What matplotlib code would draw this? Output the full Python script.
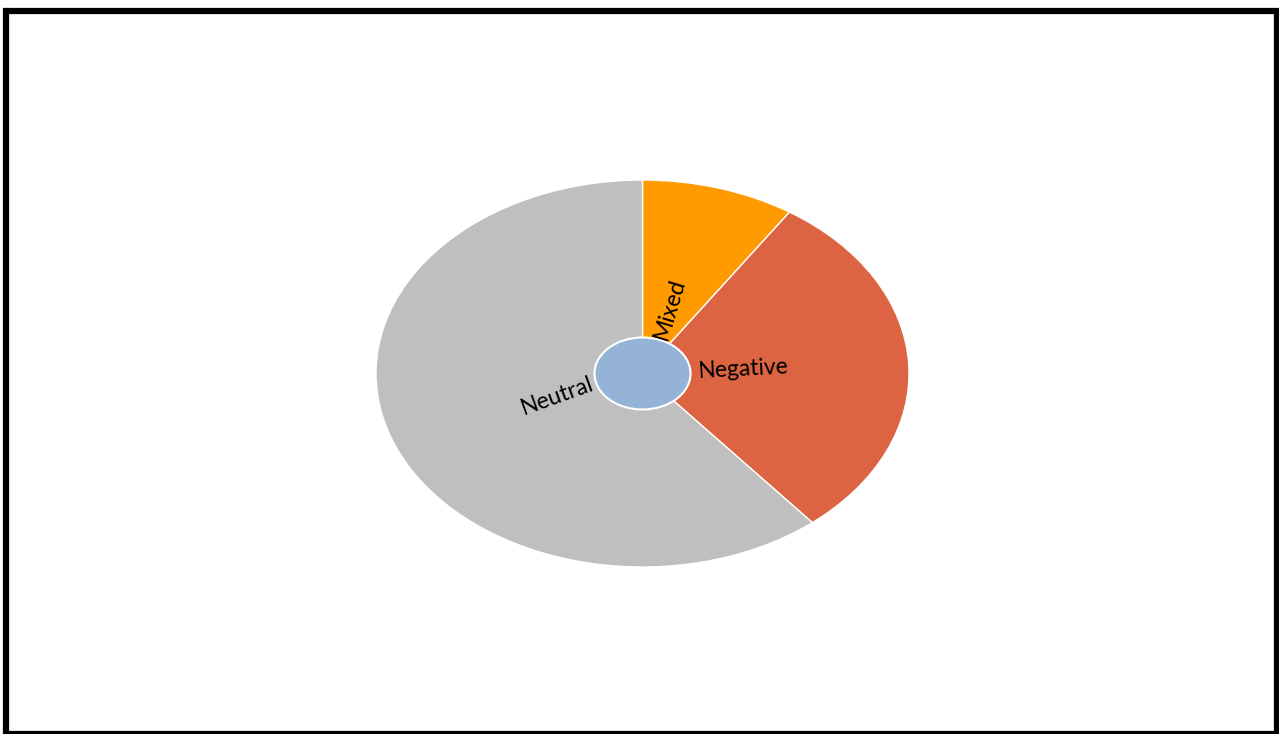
import numpy as np
import matplotlib
matplotlib.use("Agg")
import matplotlib.pyplot as plt
from matplotlib.patches import Rectangle, Ellipse

categories = ["Mixed", "Negative", "Neutral"]
values = [9.3, 29.7, 61.0]
colors = ["#FF9B00", "#DC6443", "#BFBFBF"]
center_color = "#95B3D7"

W, H = 1279, 734
fig = plt.figure(figsize=(W / 100, H / 100), dpi=100)
fig.patch.set_facecolor("white")

# frame border
fig.add_artist(Rectangle((6.0 / W, 0.0), (W - 6.0) / W - 2.0 / W, (H - 11) / H,
                         transform=fig.transFigure, fill=False,
                         edgecolor="black", linewidth=4.5, zorder=10))

cx, cy, rx, ry = 642.5, 373.5, 266.5, 193.5
ax = fig.add_axes([(cx - rx) / W, (H - cy - ry) / H, 2 * rx / W, 2 * ry / H])
wedges, _ = ax.pie(values, colors=colors, startangle=90, counterclock=False,
                   radius=1.0,
                   wedgeprops=dict(edgecolor="white", linewidth=1.0))
ax.set_aspect("auto")
ax.set_xlim(-1, 1)
ax.set_ylim(-1, 1)
ax.axis("off")

# center ellipse
ax.add_patch(Ellipse((0, 0), 2 * 48 / rx, 2 * 36 / ry, facecolor=center_color,
                     edgecolor="white", linewidth=1.5, zorder=5))

# labels
label_r = [0.35, 0.38, 0.34]
total = sum(values)
start = 90.0
for cat, v, r in zip(categories, values, label_r):
    span = 360.0 * v / total
    mid = start - span / 2
    start -= span
    th = np.deg2rad(mid)
    x, y = r * np.cos(th), r * np.sin(th)
    rot = (mid + 180) % 360 - 180
    if rot > 90:
        rot -= 180
    elif rot < -90:
        rot += 180
    ax.text(x, y, cat, ha="center", va="center", rotation=rot,
            rotation_mode="anchor", fontsize=16.5, family="Lato",
            color="black", zorder=6)

fig.savefig("out.png", dpi=100, facecolor="white")
